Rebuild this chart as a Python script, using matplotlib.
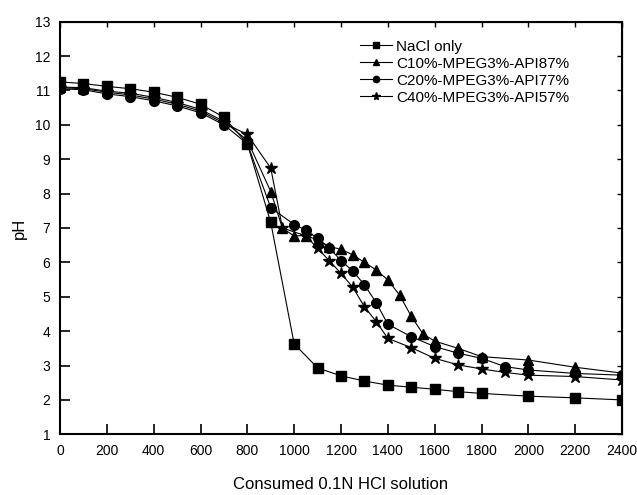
import numpy as np
import matplotlib.pyplot as plt

plt.rcParams['font.family'] = ['Liberation Sans', 'DejaVu Sans']

# NaCl only
x_nacl = [0, 100, 200, 300, 400, 500, 600, 700, 800, 900, 1000, 1100, 1200, 1300,
          1400, 1500, 1600, 1700, 1800, 2000, 2200, 2400]
y_nacl = [11.25, 11.2, 11.12, 11.05, 10.95, 10.8, 10.6, 10.22, 9.45, 7.16, 3.63, 2.93,
          2.7, 2.55, 2.43, 2.37, 2.31, 2.24, 2.19, 2.11, 2.06, 2.0]

# C10%-MPEG3%-API87%
x_c10 = [0, 100, 200, 300, 400, 500, 600, 700, 800, 900, 950, 1000, 1050, 1100, 1150,
         1200, 1250, 1300, 1350, 1400, 1450, 1500, 1550, 1600, 1700, 1800, 2000, 2200, 2400]
y_c10 = [11.1, 11.08, 10.98, 10.92, 10.8, 10.65, 10.45, 10.1, 9.55, 8.06, 6.99, 6.77,
         6.78, 6.65, 6.46, 6.38, 6.22, 6.0, 5.78, 5.49, 5.05, 4.43, 3.92, 3.71, 3.5,
         3.26, 3.16, 2.95, 2.78]

# C20%-MPEG3%-API77%
x_c20 = [0, 100, 200, 300, 400, 500, 600, 700, 800, 900, 1000, 1050, 1100, 1150, 1200,
         1250, 1300, 1350, 1400, 1500, 1600, 1700, 1800, 1900, 2000, 2200, 2400]
y_c20 = [11.05, 11.02, 10.9, 10.82, 10.7, 10.55, 10.35, 10.0, 9.45, 7.59, 7.1, 6.94,
         6.7, 6.42, 6.05, 5.75, 5.35, 4.83, 4.2, 3.84, 3.55, 3.36, 3.21, 2.97, 2.87,
         2.77, 2.72]

# C40%-MPEG3%-API57%
x_c40 = [0, 100, 200, 300, 400, 500, 600, 700, 800, 900, 950, 1050, 1100, 1150, 1200,
         1250, 1300, 1350, 1400, 1500, 1600, 1700, 1800, 1900, 2000, 2200, 2400]
y_c40 = [11.08, 11.05, 10.95, 10.87, 10.75, 10.6, 10.4, 10.05, 9.72, 8.74, 7.0, 6.77,
         6.41, 6.05, 5.68, 5.28, 4.71, 4.28, 3.79, 3.52, 3.21, 3.02, 2.9, 2.8, 2.72,
         2.68, 2.58]

fig = plt.figure(figsize=(6.37, 4.95), dpi=100)
ax = fig.add_axes([0.0942, 0.1226, 0.8823, 0.8336])

kw = dict(color='black', lw=0.8)
ax.plot(x_nacl, y_nacl, marker='s', ms=6.5, label='NaCl only', **kw)
ax.plot(x_c10, y_c10, marker='^', ms=7.5, label='C10%-MPEG3%-API87%', **kw)
ax.plot(x_c20, y_c20, marker='o', ms=7, label='C20%-MPEG3%-API77%', **kw)
ax.plot(x_c40, y_c40, marker='*', ms=9, label='C40%-MPEG3%-API57%', **kw)

ax.set_xlim(0, 2400)
ax.set_ylim(1, 13)
ax.set_xticks(np.arange(0, 2401, 200))
ax.set_yticks(np.arange(1, 14, 1))
ax.tick_params(direction='in', length=7, width=1.2, labelsize=10, pad=7)
for s in ax.spines.values():
    s.set_linewidth(1.5)

top = ax.secondary_xaxis('top')
top.set_xticks(np.arange(0, 2401, 200))
top.tick_params(direction='in', length=3.5, width=1.0, labeltop=False)
right = ax.secondary_yaxis('right')
right.set_yticks(np.arange(1, 14, 1))
right.tick_params(direction='in', length=3.5, width=1.0, labelright=False)

ax.set_xlabel('Consumed 0.1N HCl solution', fontsize=12, labelpad=14)
ax.set_ylabel('pH', fontsize=12, labelpad=6)

leg = ax.legend(loc='upper left', bbox_to_anchor=(0.509, 0.99), frameon=False,
                fontsize=11, handlelength=2.1, handletextpad=0.3, labelspacing=0.2,
                markerscale=0.65)

fig.savefig('out.png', dpi=100)
